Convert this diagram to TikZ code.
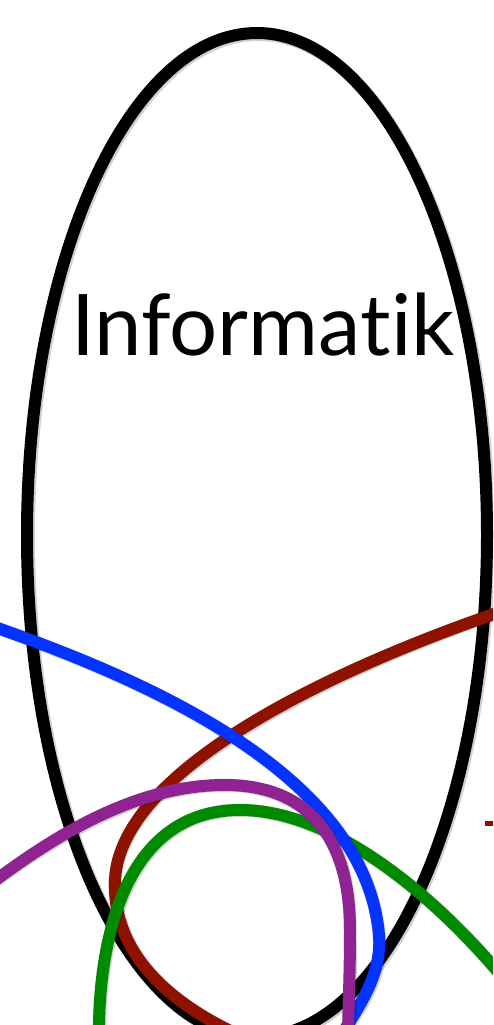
\documentclass[tikz,border=0pt]{standalone}
\usepackage{fontspec}
\setmainfont{Lato}[Ligatures={NoCommon,NoRequired,NoContextual}]
\definecolor{cblue}{HTML}{0433FF}
\definecolor{cred}{HTML}{8E1200}
\definecolor{cpurple}{HTML}{8F2391}
\definecolor{cgreen}{HTML}{008A00}
\tikzset{
  curve/.style={line width=12pt, line cap=butt},
  shade/.style={line width=13pt, draw=black, opacity=0.18, shift={(1.5,1.5)}}
}
\begin{document}
\begin{tikzpicture}[x=1pt,y=-1pt]
\useasboundingbox (0,0) rectangle (493,1025);
\clip (0,0) rectangle (493,1025);
% black ellipse
\draw[shade] (257,535) ellipse [x radius=230, y radius=502];
\draw[curve, draw=black] (257,535) ellipse [x radius=230, y radius=502];
\node (lbl) [font=\fontsize{85}{88}\selectfont, anchor=base, inner sep=0pt] at (263,355) {Informat\mbox{}ik};
% red
\coordinate (r0) at (500,612);
\coordinate (r1) at (115,880);
\coordinate (r2) at (250,1040);
\def\redpath{(r0) .. controls (330,670) and (120,770) .. (r1) .. controls (112,960) and (180,1010) .. (r2)}
\draw[shade] \redpath;
\draw[curve, draw=cred] \redpath;
\coordinate (ta) at (485,823);
\coordinate (tb) at (495,823);
\draw[cred, line width=5pt] (ta) -- (tb);
% green
\coordinate (g0) at (99,1045);
\coordinate (g1) at (240,810);
\coordinate (g2) at (505,980);
\def\greenpath{(g0) .. controls (97,950) and (120,810) .. (g1) .. controls (330,810) and (430,890) .. (g2)}
\draw[shade] \greenpath;
\draw[curve, draw=cgreen] \greenpath;
% blue
\coordinate (b0) at (-20,622);
\coordinate (b1) at (379,935);
\coordinate (b2) at (335,1045);
\def\bluepath{(b0) .. controls (150,680) and (365,775) .. (b1) .. controls (382,975) and (360,1005) .. (b2)}
\draw[shade] \bluepath;
\draw[curve, draw=cblue] \bluepath;
% purple
\coordinate (p0) at (-20,892);
\coordinate (p1) at (225,785);
\coordinate (p2) at (350,930);
\coordinate (p3) at (348,1045);
\def\purplepath{(p0) .. controls (60,830) and (140,785) .. (p1) .. controls (310,785) and (350,840) .. (p2) .. controls (350,980) and (348,1010) .. (p3)}
\draw[shade] \purplepath;
\draw[curve, draw=cpurple] \purplepath;
\end{tikzpicture}
\end{document}
